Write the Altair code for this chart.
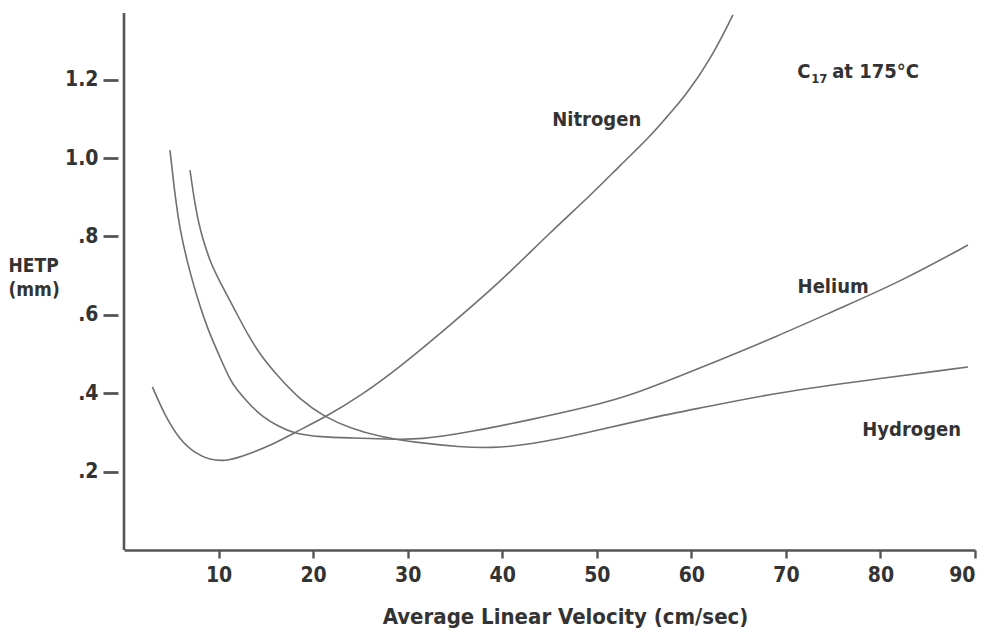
import altair as alt
import pandas as pd

# ---- data ----
nitrogen_x = [3.0, 4.3, 5.9, 7.5, 9.1, 10.7, 12.3, 15.4, 17.9, 21.3, 25.0, 29.2, 34.5,
              39.8, 45.0, 49.4, 52.5, 55.6, 57.4, 59.3, 62.0, 64.4]
nitrogen_y = [0.416, 0.344, 0.281, 0.247, 0.230, 0.227, 0.237, 0.265, 0.298, 0.339, 0.393,
              0.467, 0.574, 0.684, 0.809, 0.906, 0.982, 1.054, 1.105, 1.156, 1.250, 1.365]

helium_x = [4.86, 5.39, 5.92, 6.77, 7.72, 8.88, 10.15, 11.21, 11.95, 13.32, 14.70, 16.29,
            17.87, 20.73, 24.22, 27.81, 31.30, 36.59, 42.94, 49.39, 53.51, 60.91, 69.37,
            75.72, 82.06, 89.26]
helium_y = [1.020, 0.906, 0.816, 0.727, 0.645, 0.561, 0.492, 0.434, 0.408, 0.370, 0.339,
            0.316, 0.298, 0.288, 0.286, 0.283, 0.281, 0.301, 0.332, 0.367, 0.393, 0.464,
            0.548, 0.617, 0.684, 0.778]

hydrogen_x = [6.98, 7.51, 8.04, 9.09, 10.15, 11.74, 13.11, 14.59, 16.18, 18.61, 21.26,
              23.90, 27.07, 31.30, 35.53, 38.71, 42.94, 49.39, 55.63, 60.91, 69.37, 78.89,
              89.26]
hydrogen_y = [0.969, 0.880, 0.816, 0.735, 0.684, 0.612, 0.548, 0.492, 0.446, 0.383, 0.339,
              0.311, 0.288, 0.273, 0.263, 0.260, 0.268, 0.301, 0.337, 0.362, 0.403, 0.434,
              0.467]

label_text = ["Nitrogen", "Helium", "Hydrogen"]
label_x = [50.0, 75.0, 83.3]
label_y = [1.097, 0.671, 0.306]

note_x = [71.2]
note_y = [1.204]

x_ticks = [10, 20, 30, 40, 50, 60, 70, 80, 90]
y_ticks = [0.2, 0.4, 0.6, 0.8, 1.0, 1.2]

x_title = "Average Linear Velocity (cm/sec)"
y_title = ["HETP", "(mm)"]

# ---- tables ----
rows = []
for gas, xs, ys in [("Nitrogen", nitrogen_x, nitrogen_y),
                    ("Helium", helium_x, helium_y),
                    ("Hydrogen", hydrogen_x, hydrogen_y)]:
    for a, b in zip(xs, ys):
        rows.append({"gas": gas, "v": a, "hetp": b})
df = pd.DataFrame(rows)
labels_df = pd.DataFrame({"text": label_text, "v": label_x, "hetp": label_y})
note_df = pd.DataFrame({"v": note_x, "hetp": note_y})

FONT = "Liberation Sans Narrow, DejaVu Sans Condensed, Arial Narrow, sans-serif"
INK = "#333333"
AXIS = "#555555"

W, H = 851, 537
x_scale = alt.Scale(domain=[0, 90], nice=False, zero=False)
y_scale = alt.Scale(domain=[0, 1.37], nice=False, zero=False)

lines = alt.Chart(df).mark_line(color="#707070", strokeWidth=1.6, interpolate="basis").encode(
    x=alt.X("v:Q", scale=x_scale,
            axis=alt.Axis(values=x_ticks, title=x_title, grid=False, domainColor=AXIS,
                          domainWidth=2.6, tickColor=AXIS, tickWidth=2.4, tickSize=8,
                          labelPadding=6, labelFontSize=21, labelColor=INK, labelFont=FONT,
                          labelFontWeight="bold", titleFont=FONT, titleFontSize=22,
                          titleFontWeight="bold", titleColor=INK, titleX=441, titleY=56,
                          titleBaseline="top", titleAnchor="middle")),
    y=alt.Y("hetp:Q", scale=y_scale,
            axis=alt.Axis(values=y_ticks, format=".1f",
                          labelExpr="datum.value < 1 ? slice(datum.label, 1) : datum.label",
                          title=y_title, grid=False, domain=False, offset=6,
                          tickColor=AXIS, tickWidth=2.8, tickSize=15, labelPadding=5,
                          labelFontSize=21, labelColor=INK, labelFont=FONT,
                          labelFontWeight="bold", titleFont=FONT, titleFontSize=19,
                          titleFontWeight="bold", titleColor=INK, titleAngle=0,
                          titleAlign="left", titleBaseline="top", titleX=-110, titleY=243,
                          titleLineHeight=24)),
    detail="gas:N",
)

y_domain = alt.Chart(pd.DataFrame({"a": [0]})).mark_rule(color=AXIS, strokeWidth=2.6).encode(
    x=alt.value(0), y=alt.value(0), y2=alt.value(H)
)

gas_labels = alt.Chart(labels_df).mark_text(font=FONT, fontSize=20, fontWeight="bold",
                                             color=INK, align="center", baseline="middle").encode(
    x=alt.X("v:Q", scale=x_scale), y=alt.Y("hetp:Q", scale=y_scale), text="text:N"
)

note_c = alt.Chart(note_df).mark_text(font=FONT, fontSize=20, fontWeight="bold", color=INK,
                                      align="left", baseline="alphabetic", text="C").encode(
    x=alt.X("v:Q", scale=x_scale), y=alt.Y("hetp:Q", scale=y_scale))
note_sub = alt.Chart(note_df).mark_text(font=FONT, fontSize=13, fontWeight="bold", color=INK,
                                        align="left", baseline="alphabetic", text="17",
                                        dx=14, dy=5).encode(
    x=alt.X("v:Q", scale=x_scale), y=alt.Y("hetp:Q", scale=y_scale))
note_rest = alt.Chart(note_df).mark_text(font=FONT, fontSize=20, fontWeight="bold", color=INK,
                                         align="left", baseline="alphabetic",
                                         text="at 175°C", dx=35).encode(
    x=alt.X("v:Q", scale=x_scale), y=alt.Y("hetp:Q", scale=y_scale))

chart = alt.layer(lines, y_domain, gas_labels, note_c, note_sub, note_rest).properties(
    width=W, height=H,
    autosize=alt.AutoSizeParams(type="none"),
    padding={"left": 116, "top": 5, "right": 10, "bottom": 80},
    background="white",
).configure_view(stroke=None)

chart.save("out.html", embed_options={"renderer": "svg", "actions": False})
